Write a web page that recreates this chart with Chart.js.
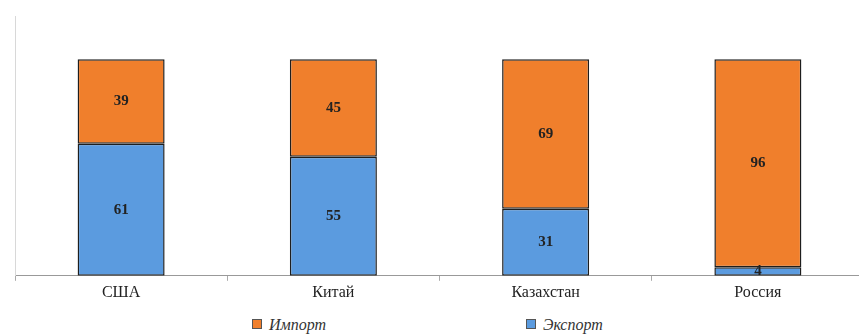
<!DOCTYPE html>
<html>
<head>
<meta charset="utf-8">
<script src="https://cdn.jsdelivr.net/npm/chart.js@4"></script>
<style>
    html, body { margin: 0; padding: 0; background: #fff; overflow: hidden; }
    #wrap { position: relative; width: 859px; height: 336px; overflow: hidden; }
    #box { position: absolute; left: 0; top: 0; width: 867px; height: 308px; }
    #legend { position: absolute; left: 0; top: 316px; width: 859px; height: 20px;
              font: italic 16px "Liberation Serif", "DejaVu Serif", serif; color: #333; }
    #legend span.item { position: absolute; top: 0; white-space: nowrap; }
    #legend span.sw { display: inline-block; width: 8px; height: 8px; margin-right: 7px;
                      border: 1px solid #555; vertical-align: 1px; }
</style>
</head>
<body>
<div id="wrap">
    <div id="box"><canvas id="tradeChart"></canvas></div>
    <div id="legend"></div>
</div>
<script>
// Data
const countries = ['США', 'Китай', 'Казахстан', 'Россия'];
const exportShare = [61, 55, 31, 4];
const importShare = [39, 45, 69, 96];
const seriesNames = ['Экспорт', 'Импорт'];
const seriesColors = ['#5b9bdf', '#f07f2c'];

// Draw value labels in the middle of each segment
const segmentLabels = {
    id: 'segmentLabels',
    afterDatasetsDraw(chart) {
        const ctx = chart.ctx;
        ctx.save();
        ctx.font = 'bold 15px "Liberation Serif", "DejaVu Serif", serif';
        ctx.fillStyle = '#222';
        ctx.textAlign = 'center';
        ctx.textBaseline = 'middle';
        chart.data.datasets.forEach((ds, i) => {
            chart.getDatasetMeta(i).data.forEach((bar, j) => {
                const y = (bar.y + bar.base) / 2;
                ctx.fillText(ds.data[j], bar.x, y);
            });
        });
        ctx.restore();
    }
};

const ctx = document.getElementById('tradeChart').getContext('2d');
const tradeChart = new Chart(ctx, {
    type: 'bar',
    data: {
        labels: countries,
        datasets: [
            {
                label: seriesNames[0],
                data: exportShare,
                backgroundColor: seriesColors[0],
                borderColor: '#1e1e1e',
                borderWidth: 1.5,
                borderSkipped: false
            },
            {
                label: seriesNames[1],
                data: importShare,
                backgroundColor: seriesColors[1],
                borderColor: '#1e1e1e',
                borderWidth: 1.5,
                borderSkipped: false
            }
        ]
    },
    options: {
        responsive: true,
        maintainAspectRatio: false,
        animation: false,
        layout: { padding: { top: 16, left: 7, right: 3, bottom: 4 } },
        datasets: { bar: { barPercentage: 0.41, categoryPercentage: 1 } },
        plugins: {
            legend: { display: false },
            tooltip: { enabled: false }
        },
        scales: {
            x: {
                stacked: true,
                grid: { offset: true, drawOnChartArea: false, tickLength: 5, color: '#aaa' },
                border: { color: '#999', width: 1 },
                ticks: {
                    padding: 2,
                    color: '#222',
                    font: { family: '"Liberation Serif", "DejaVu Serif", serif', size: 16 }
                }
            },
            y: {
                stacked: true,
                min: 0,
                max: 120,
                grid: { display: false },
                border: { color: '#d8d8d8', width: 1 },
                ticks: { display: false }
            }
        }
    },
    plugins: [segmentLabels]
});

// Legend below the chart (Импорт first, as in the source)
const legendEl = document.getElementById('legend');
const legendOrder = [1, 0];
const legendLeft = [252, 526];
legendOrder.forEach((idx, k) => {
    const item = document.createElement('span');
    item.className = 'item';
    item.style.left = legendLeft[k] + 'px';
    item.innerHTML = '<span class="sw" style="background:' + seriesColors[idx] + '"></span>' + seriesNames[idx];
    legendEl.appendChild(item);
});
</script>
</body>
</html>
